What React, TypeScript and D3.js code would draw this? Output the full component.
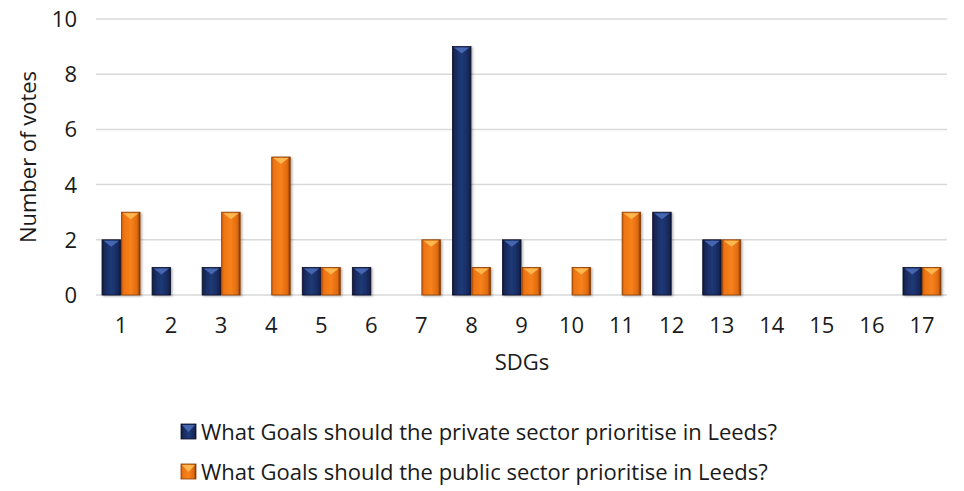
import React from "react";
import * as d3 from "d3";

const categories = ["1","2","3","4","5","6","7","8","9","10","11","12","13","14","15","16","17"];
const privateVotes = [2,1,1,0,1,1,0,9,2,0,0,3,2,0,0,0,1];
const publicVotes = [3,0,3,5,1,0,2,1,1,1,3,0,2,0,0,0,1];
const yTicks = [0,2,4,6,8,10];
const seriesNames = [
  "What Goals should the private sector prioritise in Leeds?",
  "What Goals should the public sector prioritise in Leeds?",
];

const W = 964, H = 491;
const FONT = "'Open Sans', Roboto, sans-serif";
const FS = 22;

export default function App() {
  const x = d3.scaleBand<string>().domain(categories).range([96, 947]);
  const y = d3.scaleLinear().domain([0, 10]).range([295, 19]);
  const barW = 18.5;
  const gap = 1;

  const series = [
    { values: privateVotes, id: "blue", offset: -barW - gap / 2 },
    { values: publicVotes, id: "orange", offset: gap / 2 },
  ];

  return (
    <svg width={W} height={H} style={{ position: "absolute", left: 0, top: 0 }}>
      <defs>
        <linearGradient id="blue" x1="0" x2="1" y1="0" y2="0">
          <stop offset="0" stopColor="#0d1630" />
          <stop offset="0.12" stopColor="#17285a" />
          <stop offset="0.5" stopColor="#1f3a78" />
          <stop offset="0.88" stopColor="#17285a" />
          <stop offset="1" stopColor="#0d1630" />
        </linearGradient>
        <linearGradient id="orange" x1="0" x2="1" y1="0" y2="0">
          <stop offset="0" stopColor="#c85a08" />
          <stop offset="0.12" stopColor="#ee7412" />
          <stop offset="0.5" stopColor="#f7821c" />
          <stop offset="0.85" stopColor="#e06a0e" />
          <stop offset="1" stopColor="#7a3404" />
        </linearGradient>
        <filter id="shadow" x="-30%" y="-10%" width="160%" height="130%">
          <feDropShadow dx="1.5" dy="1" stdDeviation="1.2" floodColor="#000" floodOpacity="0.3" />
        </filter>
      </defs>

      {yTicks.map((t) => (
        <g key={t}>
          <line x1={96} x2={947} y1={y(t)} y2={y(t)} stroke="#d9d9d9" strokeWidth={1.5} />
          <text x={77} y={y(t)} dy="0.36em" textAnchor="end" fontSize={FS} fill="#1a1a1a" fontFamily={FONT}>{t}</text>
        </g>
      ))}

      {categories.map((c) => (
        <text key={c} x={(x(c) ?? 0) + x.bandwidth() / 2} y={333} textAnchor="middle" fontSize={FS} fill="#1a1a1a" fontFamily={FONT}>{c}</text>
      ))}

      {series.map((s) =>
        categories.map((c, i) => {
          const v = s.values[i];
          if (!v) return null;
          const cx = (x(c) ?? 0) + x.bandwidth() / 2;
          const bx = cx + s.offset;
          const top = y(v);
          const h = y(0) - top;
          const tri = s.id === "blue" ? "#4a6cb8" : "#ffbe55";
          const edge = s.id === "blue" ? "#0a1128" : "#8a3d05";
          return (
            <g key={s.id + c} filter="url(#shadow)">
              <rect x={bx} y={top} width={barW} height={h} fill={`url(#${s.id})`} stroke={edge} strokeWidth={0.8} />
              <polygon points={`${bx + 1.5},${top + 1} ${bx + barW - 1.5},${top + 1} ${bx + barW / 2},${top + 7}`} fill={tri} opacity={0.9} />
            </g>
          );
        })
      )}

      <text transform={`translate(36,157) rotate(-90)`} textAnchor="middle" fontSize={FS} fill="#1a1a1a" fontFamily={FONT}>Number of votes</text>
      <text x={522} y={370} textAnchor="middle" fontSize={FS} fill="#1a1a1a" fontFamily={FONT}>SDGs</text>

      {seriesNames.map((name, i) => {
        const ly = 432 + i * 40;
        const id = i === 0 ? "blue" : "orange";
        const tri = i === 0 ? "#4a6cb8" : "#ffbe55";
        return (
          <g key={name}>
            <rect x={181} y={ly - 8} width={15} height={15} fill={`url(#${id})`} stroke={i === 0 ? "#0a1128" : "#8a3d05"} strokeWidth={0.8} />
            <polygon points={`${182},${ly - 7} ${195},${ly - 7} ${188.5},${ly}`} fill={tri} opacity={0.9} />
            <text x={201} y={ly} dy="0.36em" fontSize={FS} fill="#1a1a1a" fontFamily={FONT}>{name}</text>
          </g>
        );
      })}
    </svg>
  );
}
